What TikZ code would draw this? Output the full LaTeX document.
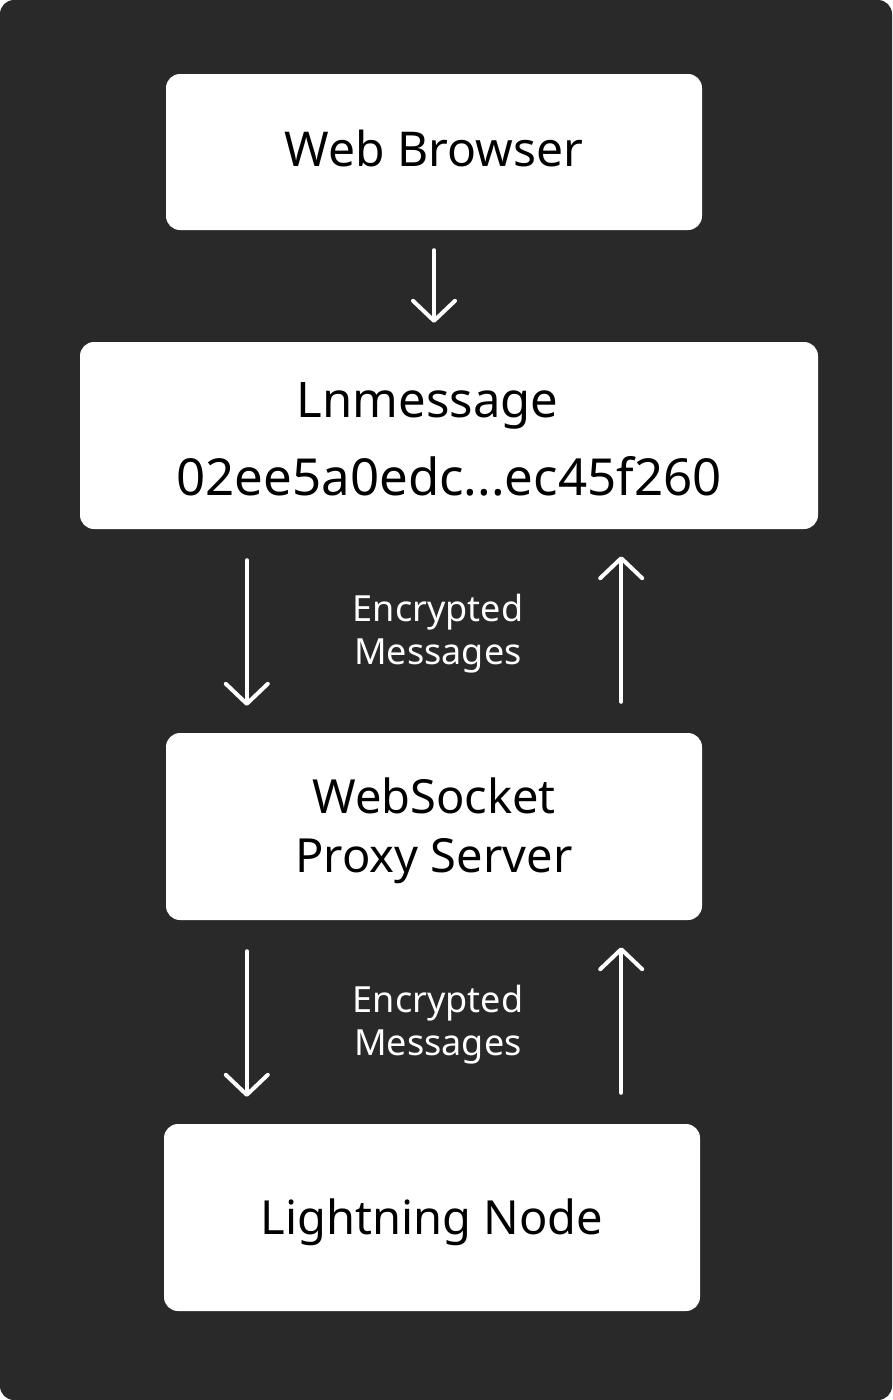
\documentclass[tikz,border=0pt]{standalone}
\usepackage{fontspec}
\setmainfont{Noto Sans}
\usetikzlibrary{arrows.meta,calc}
\definecolor{bgdark}{HTML}{292929}
\tikzset{%
	stagebox/.style={rectangle, rounded corners=14pt, fill=white, text=black, align=center, inner sep=0pt, font=\fontsize{47}{59}\selectfont},
	msglabel/.style={text=white, align=center, font=\fontsize{36}{43}\selectfont},
	flow/.style={draw=white, line width=4pt, line cap=round, -{Straight Barb[length=20pt,width=42pt,round]}}}
\begin{document}
\begin{tikzpicture}[x=1pt,y=-1pt]
		\path[fill=bgdark, rounded corners=14pt] (0,0) rectangle (892,1400);
		
		\node[stagebox, minimum width=536pt, minimum height=156pt, font=\fontsize{48}{59}\selectfont] (WB) at (434,152) {Web Browser\rule[-7pt]{0pt}{7pt}};
		\node[stagebox, minimum width=738pt, minimum height=187pt, font=\fontsize{49}{78}\selectfont] (LM) at (449,435.5)
			{\rule{0pt}{43pt}Lnmessage\hspace*{43pt}\\{\fontsize{51}{78}\selectfont 02ee5a0edc...ec45f260}};
		\node[stagebox, minimum width=536pt, minimum height=187pt] (WS) at (434,826.5) {\rule{0pt}{45pt}WebSocket\\Proxy Server};
		\node[stagebox, minimum width=536pt, minimum height=187pt] (LN) at (432,1217.5) {\rule{0pt}{46pt}Lightning Node};
		
		\node[msglabel] (EM1) at (438,634) {Encrypted\\Messages};
		\node[msglabel] (EM2) at (438,1025) {Encrypted\\Messages};
		
		\draw[flow, shorten <=20pt, shorten >=19pt] (WB.south) -- (WB.south |- LM.north);
		
		\draw[flow, shorten <=31pt, shorten >=27pt] ([xshift=81pt]LM.south -| WS.west) -- ([xshift=81pt]WS.north west);
		\draw[flow, shorten <=31pt, shorten >=27pt] ([xshift=-81pt]WS.north east) -- ([xshift=-81pt]LM.south -| WS.east);
		
		\draw[flow, shorten <=31pt, shorten >=27pt] ([xshift=81pt]WS.south west) -- ([xshift=81pt]LN.north -| WS.west);
		\draw[flow, shorten <=31pt, shorten >=27pt] ([xshift=-81pt]LN.north -| WS.east) -- ([xshift=-81pt]WS.south east);
\end{tikzpicture}
\end{document}
